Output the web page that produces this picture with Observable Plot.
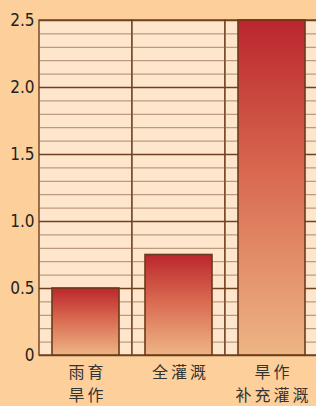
<!DOCTYPE html>
<html>
<head>
<meta charset="utf-8">
<script src="https://cdn.jsdelivr.net/npm/d3@7"></script>
<script src="https://cdn.jsdelivr.net/npm/@observablehq/plot@0.6"></script>
<style>
  html, body { margin: 0; padding: 0; background: #fdd09b; }
  #chart { width: 316px; height: 406px; overflow: hidden; }
</style>
</head>
<body>
<div id="chart"></div>
<script>
const categories = ["雨育\n旱作", "全灌溉", "旱作\n补充灌溉"];
const values = [0.5, 0.75, 2.5];
const yTicks = [0, 0.5, 1.0, 1.5, 2.0, 2.5];
const gridLines = [0.1, 0.2, 0.3, 0.4, 0.6, 0.7, 0.8, 0.9, 1.1, 1.2, 1.3, 1.4, 1.6, 1.7, 1.8, 1.9, 2.1, 2.2, 2.3, 2.4];
const majorLines = [0, 0.5, 1.0, 1.5, 2.0, 2.5];

const data = categories.map((c, i) => ({cat: c, v: values[i]}));
const cells = categories.map(c => ({cat: c, v: 2.5}));

const plot = Plot.plot({
  width: 316,
  height: 406,
  marginTop: 20,
  marginBottom: 51,
  marginLeft: 39,
  marginRight: 0,
  style: {background: "transparent", color: "#2a2a2a", overflow: "visible"},
  x: {domain: categories, range: [39, 318], padding: 0, label: null},
  y: {domain: [0, 2.5], range: [355, 20], label: null},
  marks: [
    Plot.barY(cells, {x: "cat", y: "v", fill: "#fee6cd", stroke: "#6e4120", strokeWidth: 1.4}),
    Plot.ruleY(gridLines, {stroke: "#8a6040", strokeWidth: 1, strokeOpacity: 0.7}),
    Plot.ruleY(majorLines, {stroke: "#6e4120", strokeWidth: 1.6}),
    Plot.barY(data, {x: "cat", y: "v", insetLeft: 13, insetRight: 13, fill: "url(#barGrad)", stroke: "#6b3a1a", strokeWidth: 1.6}),
    Plot.axisY(yTicks, {
      tickSize: 0, tickPadding: 5,
      tickFormat: d => d === 0 ? "0" : d.toFixed(1),
      fontSize: 17, fontFamily: "Liberation Sans Narrow, DejaVu Sans Condensed, sans-serif",
      fill: "#222"
    }),
    Plot.axisX({
      tickSize: 0, tickPadding: 7,
      fontSize: 16, lineHeight: 1.4,
      fontFamily: "Noto Sans CJK SC, sans-serif",
      fill: "#333",
      dx: 1.5
    })
  ]
});

// gradient definition for the bars
const ns = "http://www.w3.org/2000/svg";
const defs = document.createElementNS(ns, "defs");
defs.innerHTML = `
  <linearGradient id="barGrad" x1="0" y1="0" x2="0" y2="1">
    <stop offset="0" stop-color="#bb262d"/>
    <stop offset="0.45" stop-color="#d8684f"/>
    <stop offset="1" stop-color="#eeb585"/>
  </linearGradient>`;
plot.insertBefore(defs, plot.firstChild);
plot.querySelectorAll('g[aria-label="x-axis tick label"] text').forEach(t => t.setAttribute("letter-spacing", "3"));
document.getElementById("chart").appendChild(plot);
</script>
</body>
</html>
